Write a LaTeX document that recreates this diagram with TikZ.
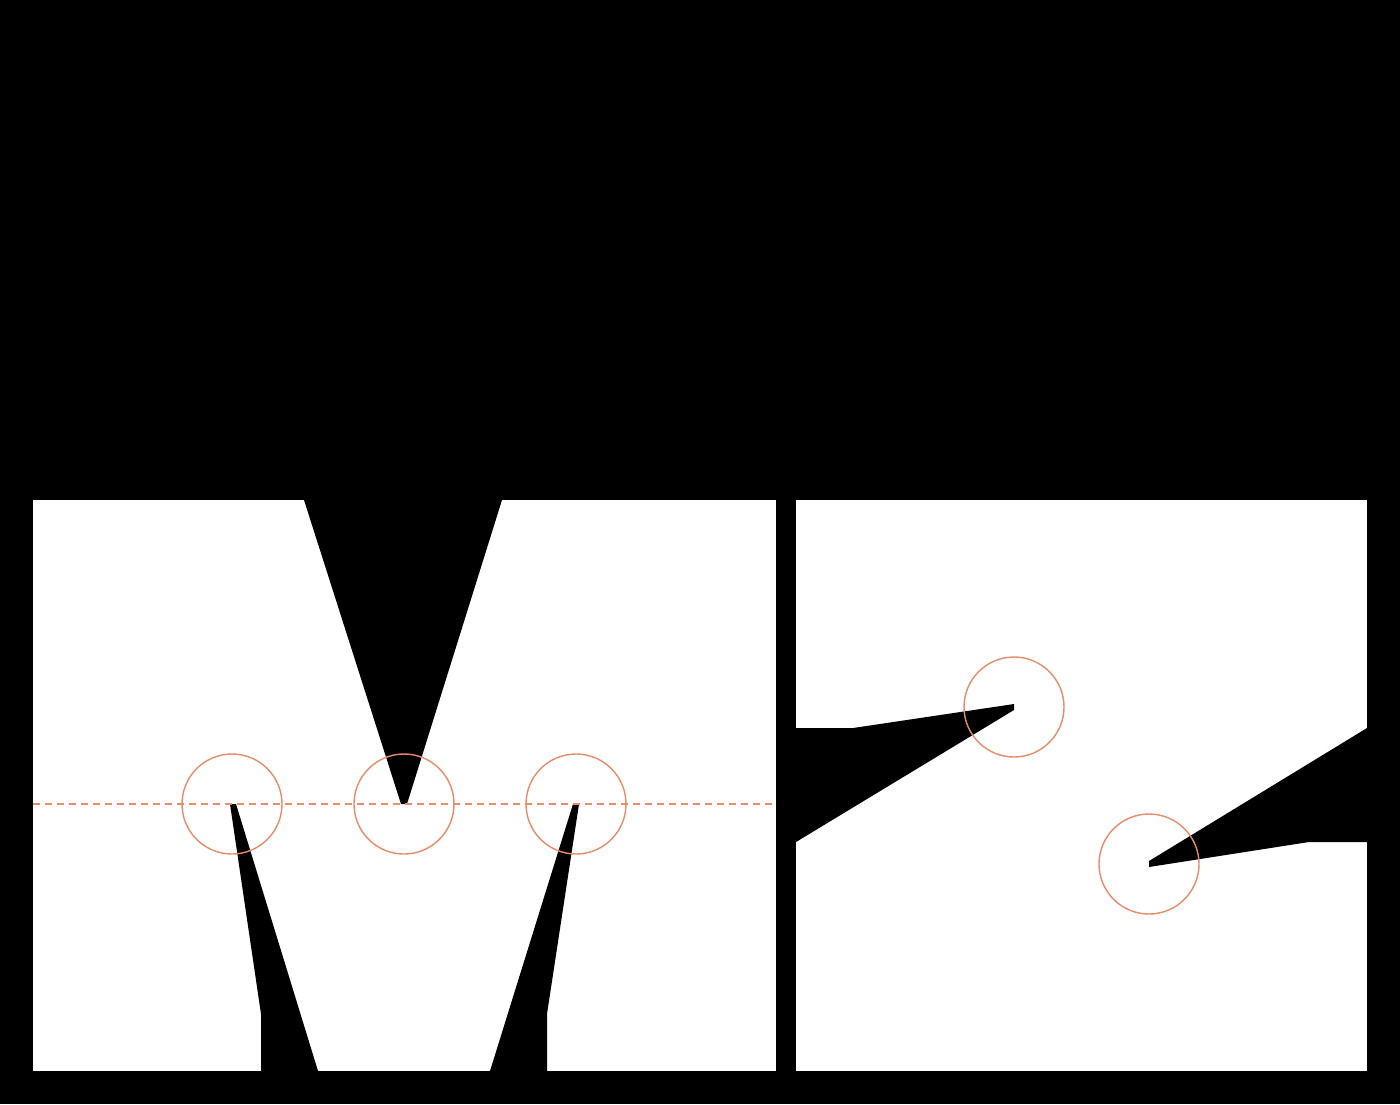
\documentclass[tikz,border=0pt]{standalone}
\definecolor{guide}{RGB}{232,140,105}
\tikzset{
  paper/.style={fill=white},
  ink/.style={fill=black},
  guidecircle/.style={draw=guide, line width=1.4pt},
  guideline/.style={draw=guide, line width=1.2pt, dash pattern=on 7pt off 5pt},
}
\begin{document}
\begin{tikzpicture}[x=1pt,y=-1pt]
\useasboundingbox[fill=black] (0,0) rectangle (1400,1104);
% white panels
\fill[paper] (33,500) rectangle (776,1071);
\fill[paper] (796,500) rectangle (1367,1071);
% M: black cut-outs
\fill[ink] (304,500) -- (502,500) -- (407,804) -- (401,804) -- cycle;
\fill[ink] (230,804) -- (236,804) -- (318,1071) -- (261,1071) -- (261,1014) -- cycle;
\fill[ink] (573,804) -- (579,804) -- (547,1014) -- (547,1071) -- (490,1071) -- cycle;
% Z: black cut-outs
\fill[ink] (796,728) -- (853,728) -- (1014,704) -- (1014,710) -- (796,842) -- cycle;
\fill[ink] (1367,728) -- (1149,861) -- (1149,867) -- (1309,842) -- (1367,842) -- cycle;
% guides
\coordinate (gl) at (33,804);
\coordinate (gr) at (776,804);
\draw[guideline] (gl) -- (gr);
\draw[guidecircle] (232,804) circle (50);
\draw[guidecircle] (404,804) circle (50);
\draw[guidecircle] (576,804) circle (50);
\draw[guidecircle] (1014,707) circle (50);
\draw[guidecircle] (1149,864) circle (50);
\end{tikzpicture}
\end{document}
